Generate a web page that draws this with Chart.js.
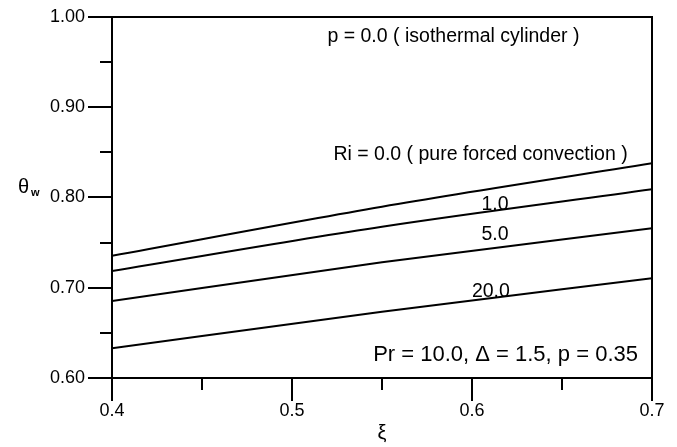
<!DOCTYPE html>
<html>
<head>
<meta charset="utf-8">
<script src="https://cdn.jsdelivr.net/npm/chart.js@4/dist/chart.umd.min.js"></script>
<style>
    html, body { margin: 0; padding: 0; background: #fff; }
    #wrap { width: 677px; height: 447px; }
</style>
</head>
<body>
<div id="wrap"><canvas id="thetaChart" width="677" height="447"></canvas></div>
<script>
// wall temperature vs streamwise coordinate, one curve per Richardson number
const xi = [0.4, 0.55, 0.7];
const ri0 = [0.7355, 0.7898, 0.8379];
const ri1 = [0.7186, 0.7676, 0.8091];
const ri5 = [0.6853, 0.7282, 0.7659];
const ri20 = [0.6329, 0.6735, 0.7105];
const riLabels = ["Ri = 0.0 ( pure forced convection )", "1.0", "5.0", "20.0"];

const xMajor = [0.4, 0.5, 0.6, 0.7];
const xMinor = [0.45, 0.55, 0.65];
const yMajor = [0.6, 0.7, 0.8, 0.9, 1.0];
const yMinor = [0.65, 0.75, 0.85, 0.95];

const FONT = "'Liberation Sans', Arial, Helvetica, sans-serif";

const toPoints = (ys) => xi.map((x, i) => ({ x: x, y: ys[i] }));

function series(label, ys) {
    return {
        label: label,
        data: toPoints(ys),
        borderColor: "#000",
        borderWidth: 2,
        pointRadius: 0,
        fill: false,
        cubicInterpolationMode: "monotone",
    };
}

// fixed axis box, and no extra room for the end labels
function fixScale(size) {
    return (scale) => {
        if (scale.isHorizontal()) scale.height = size;
        else scale.width = size;
        scale.paddingTop = 0;
        scale.paddingBottom = 0;
        scale.paddingLeft = 0;
        scale.paddingRight = 0;
    };
}

// frame, tick marks and text annotations
const decorations = {
    id: "decorations",
    afterDraw(chart) {
        const ctx = chart.ctx;
        const area = chart.chartArea;
        const xs = chart.scales.x;
        const ys = chart.scales.y;

        ctx.save();
        ctx.strokeStyle = "#000";
        ctx.lineWidth = 2;
        ctx.strokeRect(area.left, area.top, area.right - area.left, area.bottom - area.top);

        ctx.beginPath();
        yMajor.forEach((v) => {
            const py = Math.round(ys.getPixelForValue(v));
            ctx.moveTo(area.left - 24, py);
            ctx.lineTo(area.left, py);
        });
        yMinor.forEach((v) => {
            const py = Math.round(ys.getPixelForValue(v));
            ctx.moveTo(area.left - 12, py);
            ctx.lineTo(area.left, py);
        });
        xMajor.forEach((v) => {
            const px = Math.round(xs.getPixelForValue(v));
            ctx.moveTo(px, area.bottom);
            ctx.lineTo(px, area.bottom + 23);
        });
        xMinor.forEach((v) => {
            const px = Math.round(xs.getPixelForValue(v));
            ctx.moveTo(px, area.bottom);
            ctx.lineTo(px, area.bottom + 12);
        });
        ctx.stroke();

        ctx.fillStyle = "#000";
        ctx.textBaseline = "middle";

        ctx.font = "19.5px " + FONT;
        ctx.textAlign = "left";
        ctx.fillText("p = 0.0 ( isothermal cylinder )", xs.getPixelForValue(0.5197), ys.getPixelForValue(0.978));
        ctx.fillText(riLabels[0], xs.getPixelForValue(0.5230), ys.getPixelForValue(0.848));

        ctx.textAlign = "center";
        ctx.fillText(riLabels[1], xs.getPixelForValue(0.6128), ys.getPixelForValue(0.792));
        ctx.fillText(riLabels[2], xs.getPixelForValue(0.6128), ys.getPixelForValue(0.7585));
        ctx.fillText(riLabels[3], xs.getPixelForValue(0.6105), ys.getPixelForValue(0.6955));

        ctx.font = "22px " + FONT;
        ctx.textAlign = "right";
        ctx.fillText("Pr = 10.0, \u0394 = 1.5, p = 0.35", xs.getPixelForValue(0.6922), ys.getPixelForValue(0.6255));

        // axis titles
        ctx.font = "20px " + FONT;
        ctx.textAlign = "left";
        ctx.fillText("\u03b8", 18, 187);
        ctx.font = "bold 11px " + FONT;
        ctx.fillText("w", 31, 193);

        ctx.font = "20px " + FONT;
        ctx.textAlign = "center";
        ctx.fillText("\u03be", xs.getPixelForValue(0.55), 433);
        ctx.restore();
    },
};

new Chart(document.getElementById("thetaChart"), {
    type: "line",
    data: {
        datasets: [
            series("Ri = 0.0", ri0),
            series("Ri = 1.0", ri1),
            series("Ri = 5.0", ri5),
            series("Ri = 20.0", ri20),
        ],
    },
    options: {
        responsive: false,
        animation: false,
        events: [],
        layout: {
            padding: { top: 17, right: 25, left: 0, bottom: 0 },
        },
        plugins: {
            legend: { display: false },
            tooltip: { enabled: false },
        },
        scales: {
            x: {
                type: "linear",
                min: 0.4,
                max: 0.7,
                afterFit: fixScale(69),
                border: { display: false },
                grid: { display: false, drawTicks: false },
                ticks: {
                    stepSize: 0.1,
                    padding: 22,
                    color: "#000",
                    font: { family: FONT, size: 18 },
                    maxRotation: 0,
                    callback: (v) => Number(v).toFixed(1),
                },
            },
            y: {
                type: "linear",
                min: 0.6,
                max: 1.0,
                afterFit: fixScale(112),
                border: { display: false },
                grid: { display: false, drawTicks: false },
                ticks: {
                    stepSize: 0.1,
                    padding: 27,
                    color: "#000",
                    font: { family: FONT, size: 18 },
                    callback: (v) => Number(v).toFixed(2),
                },
            },
        },
    },
    plugins: [decorations],
});
</script>
</body>
</html>
